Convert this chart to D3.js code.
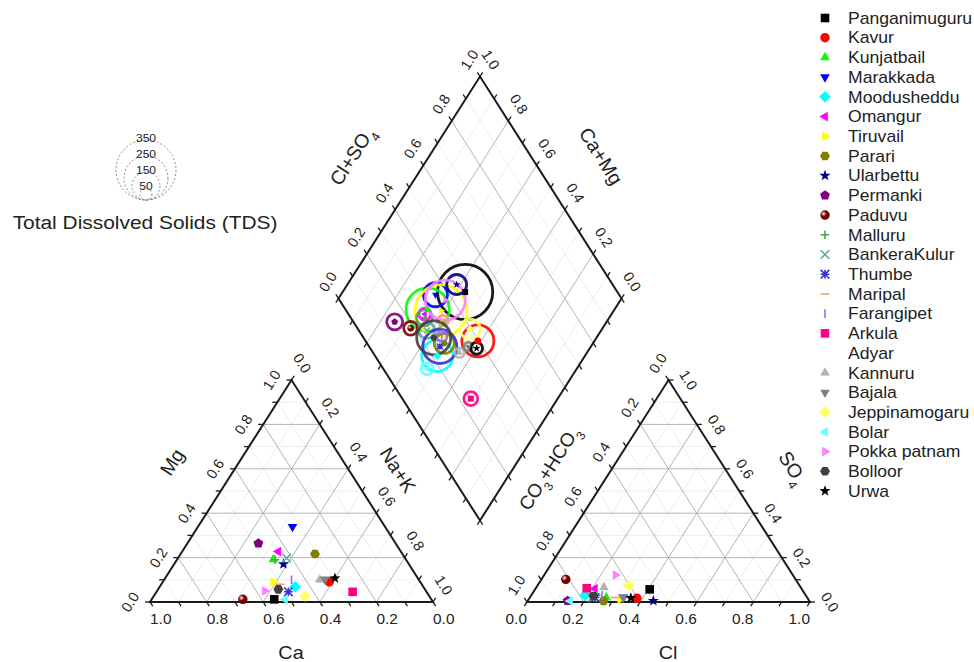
<!DOCTYPE html>
<html><head><meta charset="utf-8">
<script src="https://cdn.jsdelivr.net/npm/d3@7"></script>
<style>
body{margin:0;background:#fff}
svg{display:block}
text{font-family:"Liberation Sans",Arial,Helvetica,sans-serif;fill:#222}
</style>
</head><body>
<svg id="chart" width="974" height="662"></svg>
<script>
// ---------------- DATA ----------------
const sites = ["Panganimuguru","Kavur","Kunjatbail","Marakkada","Moodusheddu","Omangur","Tiruvail","Parari","Ularbettu","Permanki","Paduvu","Malluru","BankeraKulur","Thumbe","Maripal","Farangipet","Arkula","Adyar","Kannuru","Bajala","Jeppinamogaru","Bolar","Pokka patnam","Bolloor","Urwa"];
// cation fractions
const caFrac  = [0.555,0.321,0.468,0.327,0.453,0.433,0.519,0.309,0.443,0.485,0.666,0.463,0.418,0.488,0.50,0.45,0.261,null,0.35,0.331,0.439,0.517,0.569,0.518,0.293];
const mgFrac  = [0.012,0.091,0.192,0.339,0.069,0.227,0.091,0.216,0.171,0.264,0.012,0.190,0.198,0.046,0.08,0.10,0.046,null,0.10,0.102,0.027,0.012,0.050,0.057,0.107];
const naKFrac = [0.433,0.588,0.340,0.334,0.478,0.340,0.390,0.475,0.386,0.251,0.322,0.347,0.384,0.466,0.42,0.45,0.693,null,0.55,0.567,0.534,0.471,0.381,0.425,0.600];
// anion fractions
const clFrac   = [0.405,0.380,0.270,0.330,0.190,0.210,0.323,0.268,0.444,0.141,0.086,0.230,0.220,0.230,0.30,0.25,0.180,null,0.239,0.330,0.324,0.150,0.252,0.221,0.358];
const so4Frac  = [0.057,0.017,0.020,0.021,0.030,0.060,0.012,0.005,0.005,0.005,0.102,0.030,0.020,0.020,0.02,0.03,0.062,null,0.066,0.020,0.072,0.005,0.122,0.027,0.018];
const hco3Frac = [0.538,0.603,0.710,0.649,0.780,0.730,0.665,0.727,0.551,0.854,0.812,0.740,0.760,0.750,0.68,0.72,0.758,null,0.695,0.650,0.604,0.845,0.626,0.752,0.624];
// total dissolved solids (mg/L)
const tds = [320,175,245,125,170,50,300,100,100,75,62,75,75,188,40,40,62,null,35,30,100,50,225,188,50];
const tdsLegend = [350,250,150,50];
const tickVals = [0,0.1,0.2,0.3,0.4,0.5,0.6,0.7,0.8,0.9,1.0];

// ---------------- STYLE ----------------
const colors = ["#000000","#ff0000","#00ff00","#0000ff","#00ffff","#ff00ff","#ffff00","#808000","#000080","#800080","#800000","#4aa64a","#5fa8a8","#3333cc","#ff9966","#9966ff","#ff0080","#ffffff","#b0b0b0","#808080","#ffff66","#66ffff","#ff80ff","#404040","#000000"];
const symbols = ["square","circle","up","down","diamond","left","right","hexagon","star","pentagon","sphere","plus","x","starx","dash","bar","square","none","up","down","diamond","left","right","hexagon","star"];

const svg = d3.select("#chart");
const defs = svg.append("defs");
const XS = 1.1; // horizontal text stretch of the original

// geometry
const W = 283, H = 222, baseY = 602;
const L1x = 150, L2x = 527;
const cxD = (L1x + W + L2x) / 2;
const DLx = cxD - W/2, DLy = 298.5;
const sx = d3.scaleLinear().domain([0,1]).range([0,W]);
const sy = d3.scaleLinear().domain([0,1]).range([0,H]);
const rScale = d3.scaleLinear().domain([0,350]).range([2,30]);

// projections
const cation = (ca,mg,na) => [L1x + sx(na + mg/2), baseY - sy(mg)];
const anion  = (h,cl,s)   => [L2x + sx(cl + s/2), baseY - sy(s)];
const diamond = (na,a)     => [DLx + sx((a + na)/2), DLy - sy(a) + sy(na)];

const ang = Math.atan2(H, W/2) * 180/Math.PI;
const len = Math.hypot(W/2, H);
const ux = (W/2)/len, uy = H/len;

const gGrid = svg.append("g");
const gAxes = svg.append("g");
const gData = svg.append("g");

function line(g, p, q, stroke, sw){
  g.append("line").attr("x1",p[0]).attr("y1",p[1]).attr("x2",q[0]).attr("y2",q[1])
   .attr("stroke",stroke).attr("stroke-width",sw);
}
function hText(g, x, y, str, size, anchor){
  return g.append("text").attr("x",0).attr("y",0).attr("dy","0.36em")
    .attr("text-anchor",anchor||"middle").attr("font-size",size)
    .attr("transform",`translate(${x},${y}) scale(${XS},1)`).text(str);
}

function triGridAll(proj){
  [false,true].forEach(pass=>{
    tickVals.slice(1,-1).forEach(v=>{
      const major = Math.round(v*10) % 2 === 0;
      if(major!==pass) return;
      const st = major ? "#b4b4b4" : "#e8e8e8", sw = major ? 1 : 0.8;
      line(gGrid, proj(v,0,1-v), proj(v,1-v,0), st, sw);
      line(gGrid, proj(0,v,1-v), proj(1-v,v,0), st, sw);
      line(gGrid, proj(0,1-v,v), proj(1-v,0,v), st, sw);
    });
  });
}
triGridAll(cation);
triGridAll(anion);
[false,true].forEach(pass=>{
  tickVals.slice(1,-1).forEach(v=>{
    const major = Math.round(v*10) % 2 === 0;
    if(major!==pass) return;
    const st = major ? "#b4b4b4" : "#e8e8e8", sw = major ? 1 : 0.8;
    line(gGrid, diamond(0,v), diamond(1,v), st, sw);
    line(gGrid, diamond(v,0), diamond(v,1), st, sw);
  });
});

function poly(pts){
  gAxes.append("path").attr("d", d3.line()(pts) + "Z")
    .attr("fill","none").attr("stroke","#1a1a1a").attr("stroke-width",2).attr("stroke-linejoin","miter");
}
poly([cation(1,0,0), cation(0,1,0), cation(0,0,1)]);
poly([anion(1,0,0), anion(0,0,1), anion(0,1,0)]);
poly([diamond(0,0), diamond(0,1), diamond(1,1), diamond(1,0)]);

function edgeAxis(pointAt, dir, rot, labels){
  tickVals.forEach(v=>{
    const p = pointAt(v);
    line(gAxes, p, [p[0]+dir[0]*5, p[1]+dir[1]*5], "#1a1a1a", 1.3);
    if(labels && Math.round(v*10) % 2 === 0){
      const lx = p[0]+dir[0]*20, ly = p[1]+dir[1]*20;
      if(rot === 0){
        hText(gAxes, lx, ly, v.toFixed(1), 14);
      } else {
        gAxes.append("text").attr("x",lx).attr("y",ly).attr("dy","0.36em")
          .attr("text-anchor","middle").attr("font-size",14.5)
          .attr("transform",`rotate(${rot},${lx},${ly})`).text(v.toFixed(1));
      }
    }
  });
}
edgeAxis(v=>cation(v,0,1-v), [ux,uy], 0, true);
edgeAxis(v=>cation(1-v,v,0), [-1,0], -ang, true);
edgeAxis(v=>cation(0,1-v,v), [ux,-uy], ang, true);
edgeAxis(v=>anion(1-v,v,0), [-ux,uy], 0, true);
edgeAxis(v=>anion(v,0,1-v), [-ux,-uy], -ang, true);
edgeAxis(v=>anion(0,1-v,v), [1,0], ang, true);
edgeAxis(v=>diamond(0,v), [-ux,-uy], -ang, true);
edgeAxis(v=>diamond(1-v,1), [ux,-uy], ang, true);
edgeAxis(v=>diamond(v,0), [-ux,uy], 0, false);
edgeAxis(v=>diamond(1,v), [ux,uy], 0, false);

function title(x,y,rot,parts,size){
  const t = gAxes.append("text").attr("x",x).attr("y",y).attr("text-anchor","middle")
    .attr("dy","0.35em").attr("font-size",size).attr("transform",`rotate(${rot},${x},${y})`);
  parts.forEach(([s,sub])=>{
    const ts = t.append("tspan").text(s);
    if(sub) ts.attr("font-size",size*0.65).attr("baseline-shift","sub");
  });
}
hText(gAxes, 291, 653, "Ca", 18);
hText(gAxes, 668, 653, "Cl", 18);
title(172, 462, -ang, [["Mg"]], 19.5);
title(398, 470, ang, [["Na+K"]], 19.5);
title(549, 468, -ang, [["CO"],["3",1],["+HCO"],["3",1]], 19);
title(793, 468, ang, [["SO"],["4",1]], 19.5);
title(352, 156, -ang, [["Cl+SO"],["4",1]], 19.5);
title(601, 156, ang, [["Ca+Mg"]], 19.5);

// ---------- symbols ----------
function regPoly(n, r, rot){
  const pts = d3.range(n).map(i=>{const a = rot + i*2*Math.PI/n; return [r*Math.cos(a), r*Math.sin(a)];});
  return d3.line()(pts) + "Z";
}
function symbolShape(type, s){
  switch(type){
    case "square": return {d:`M${-s},${-s}h${2*s}v${2*s}h${-2*s}Z`, fill:true};
    case "circle": case "sphere": return {d:d3.arc()({innerRadius:0,outerRadius:s*1.1,startAngle:0,endAngle:2*Math.PI}), fill:true};
    case "up": return {d:regPoly(3, s*1.3, -Math.PI/2), fill:true};
    case "down": return {d:regPoly(3, s*1.3, Math.PI/2), fill:true};
    case "left": return {d:regPoly(3, s*1.3, Math.PI), fill:true};
    case "right": return {d:regPoly(3, s*1.3, 0), fill:true};
    case "diamond": return {d:regPoly(4, s*1.35, 0), fill:true};
    case "hexagon": return {d:regPoly(6, s*1.15, 0), fill:true};
    case "pentagon": return {d:regPoly(5, s*1.2, -Math.PI/2), fill:true};
    case "star": {
      const pts = d3.range(10).map(i=>{const r = i%2 ? s*0.55 : s*1.35; const a=-Math.PI/2 + i*Math.PI/5; return [r*Math.cos(a), r*Math.sin(a)];});
      return {d:d3.line()(pts)+"Z", fill:true};
    }
    case "plus": return {d:`M${-s},0H${s}M0,${-s}V${s}`, fill:false};
    case "x": return {d:`M${-s},${-s}L${s},${s}M${-s},${s}L${s},${-s}`, fill:false};
    case "starx": return {d:`M${-s},${-s}L${s},${s}M${-s},${s}L${s},${-s}M${-s},0H${s}M0,${-s}V${s}`, fill:false};
    case "dash": return {d:`M${-s},0H${s}`, fill:false};
    case "bar": return {d:`M0,${-s}V${s}`, fill:false};
    default: return null;
  }
}
colors.forEach((c,i)=>{
  if(symbols[i]!=="sphere") return;
  const g = defs.append("radialGradient").attr("id","sph"+i).attr("cx","35%").attr("cy","35%").attr("r","65%");
  g.append("stop").attr("offset","0%").attr("stop-color","#ffffff");
  g.append("stop").attr("offset","45%").attr("stop-color",c);
  g.append("stop").attr("offset","100%").attr("stop-color",d3.color(c).darker(0.8));
});
function drawSymbol(g, i, x, y, s){
  const sh = symbolShape(symbols[i], s);
  if(!sh) return;
  const p = g.append("path").attr("d",sh.d).attr("transform",`translate(${x},${y})`);
  if(sh.fill){
    p.attr("fill", symbols[i]==="sphere" ? `url(#sph${i})` : colors[i]);
  } else {
    p.attr("fill","none").attr("stroke",colors[i]).attr("stroke-width",1.6);
  }
}

const idx = d3.range(sites.length).filter(i => caFrac[i]!=null);
function cat(i){ const t = caFrac[i]+mgFrac[i]+naKFrac[i]; return [caFrac[i]/t, mgFrac[i]/t, naKFrac[i]/t]; }
function ani(i){ const t = hco3Frac[i]+clFrac[i]+so4Frac[i]; return [hco3Frac[i]/t, clFrac[i]/t, so4Frac[i]/t]; }

const gRing = gData.append("g"), gMark = gData.append("g");
idx.forEach(i=>{
  const c = cat(i), a = ani(i);
  const p = diamond(c[2], a[1]+a[2]);
  gRing.append("circle").attr("cx",p[0]).attr("cy",p[1]).attr("r",rScale(tds[i]))
    .attr("fill","none").attr("stroke",colors[i]).attr("stroke-width",2.8).attr("stroke-opacity",0.9);
  drawSymbol(gMark, i, p[0], p[1], 3);
});
idx.forEach(i=>{
  const c = cat(i), a = ani(i);
  const pc = cation(c[0], c[1], c[2]);
  const pa = anion(a[0], a[1], a[2]);
  drawSymbol(gMark, i, pc[0], pc[1], 4.3);
  drawSymbol(gMark, i, pa[0], pa[1], 4.3);
});

// legend
const gLeg = svg.append("g");
const legY = d3.scaleLinear().domain([0, sites.length-1]).range([18, 491]);
sites.forEach((s,i)=>{
  const y = legY(i);
  drawSymbol(gLeg, i, 825, y, 4.3);
  hText(gLeg, 848, y, s, 16, "start");
});

// TDS legend
const gT = svg.append("g");
const tCx = 146, tBot = 200;
tdsLegend.forEach(v=>{
  const r = rScale(v);
  gT.append("circle").attr("cx",tCx).attr("cy",tBot - r).attr("r",r)
    .attr("fill","none").attr("stroke","#8a8a8a").attr("stroke-width",1).attr("stroke-dasharray","2,2");
  hText(gT, tCx, tBot - 2*r - 2, v, 11);
});
hText(gT, 145, 222, "Total Dissolved Solids (TDS)", 19);
</script>
</body></html>
